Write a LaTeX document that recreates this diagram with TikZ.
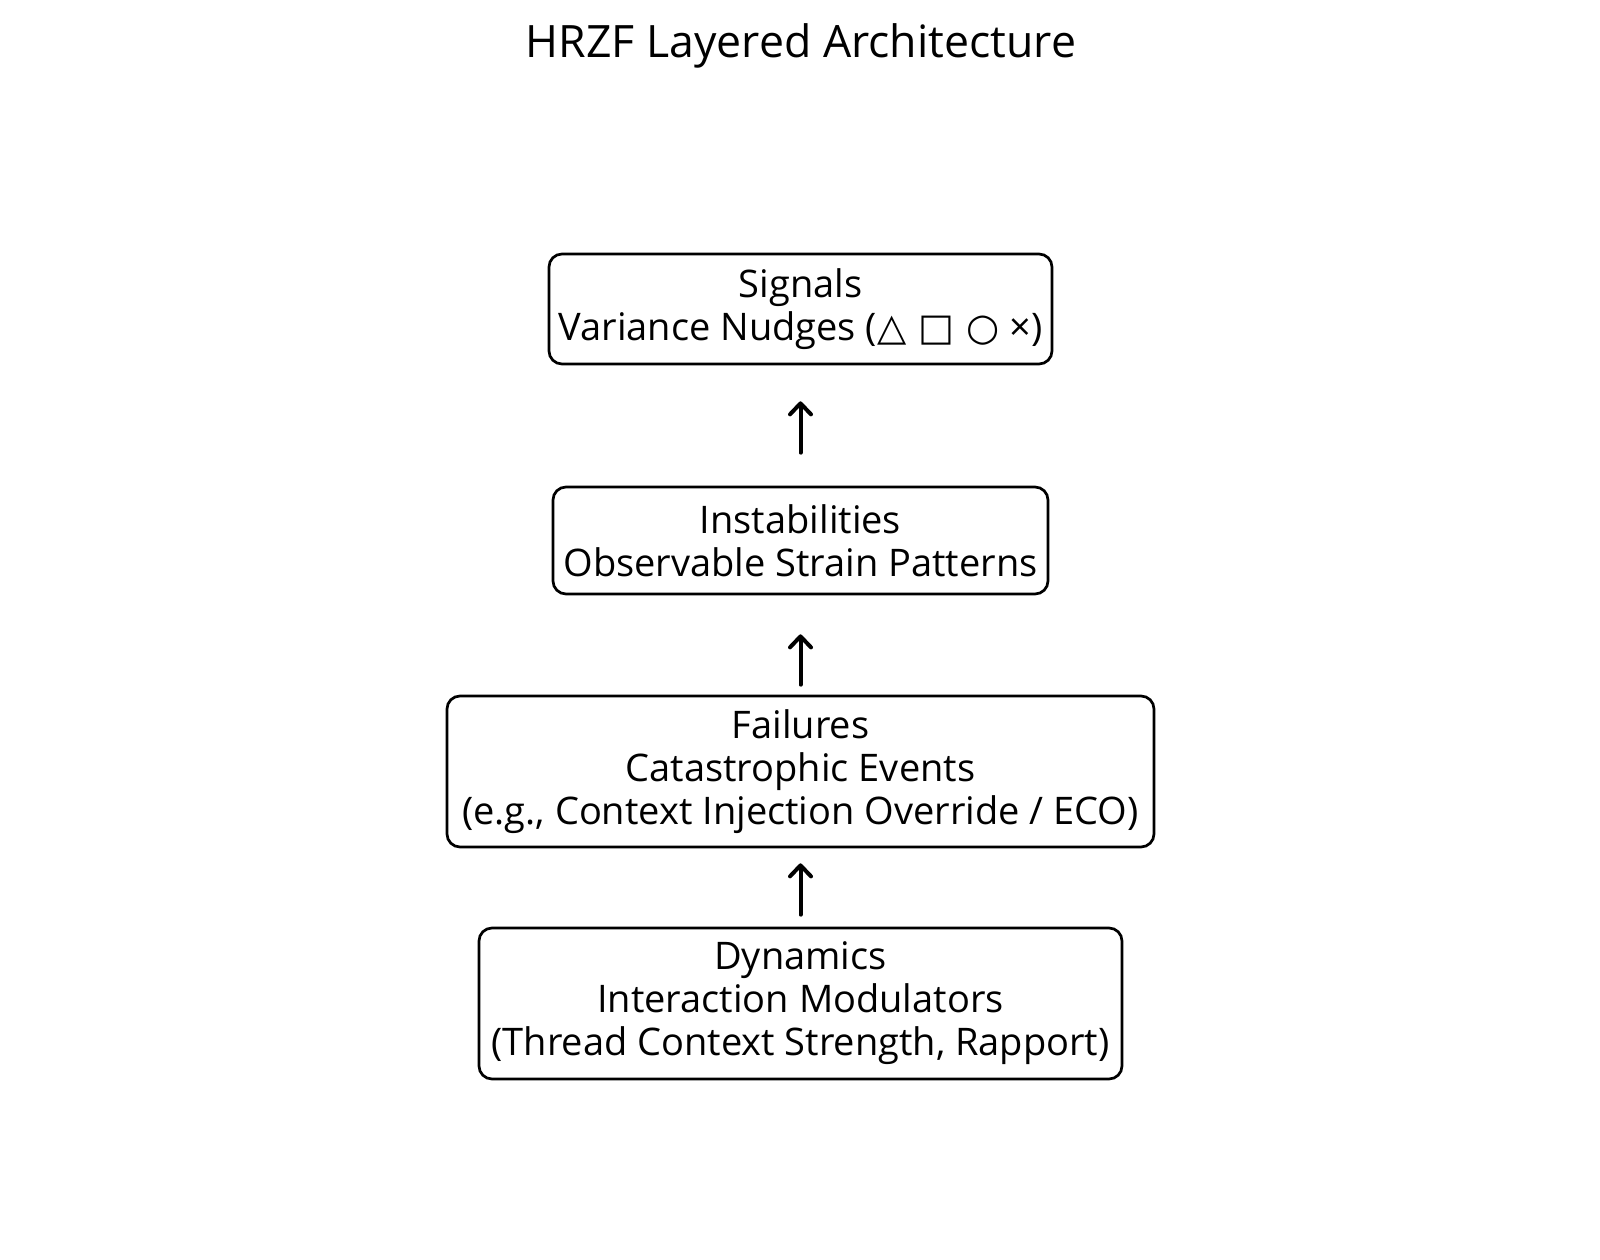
\documentclass[tikz,border=0pt]{standalone}
\usepackage{fontspec}
\setmainfont{Open Sans}[Ligatures=NoCommon]
\newfontfamily\symfont{DejaVu Sans}
\usetikzlibrary{arrows.meta}

\tikzset{
	layer/.style={draw, line width=1.35pt, rounded corners=6.5pt, align=center,
		minimum height=55pt, font=\fontsize{19}{21.5}\selectfont},
	flow/.style={line width=2pt, line cap=round,
		arrows={-Straight Barb[length=5.5pt, width=10.5pt, line cap=round, line join=round]}},
}

\begin{document}
\begin{tikzpicture}[x=0.5pt, y=-0.5pt]
	\useasboundingbox (0,0) rectangle (1600,1259);
	\node [anchor=base, font=\fontsize{22.3}{26}\selectfont] (title) at (801,57) {HRZF Layered Architecture};
	% the four layers, top to bottom
	\node [layer, minimum width=251.5pt] (sig) at (800.5,309) {Signals\\Variance Nudges ({\symfont △ □ ○} ×)};
	\node [layer, minimum width=247.5pt, minimum height=53.5pt] (inst) at (800.5,540.5) {Instabilities\\Observable Strain Patterns};
	\node [layer, minimum width=353.5pt, minimum height=75.5pt] (fail) at (800.5,771.5) {Failures\\Catastrophic Events\\(e.g., Context Injection Override / ECO)};
	\node [layer, minimum width=321.5pt, minimum height=75.5pt] (dyn) at (800.5,1003.5) {Dynamics\\Interaction Modulators\\(Thread Context Strength, Rapport)};
	% upward flow
	\draw [flow, shorten <=6pt, shorten >=7.5pt] (dyn) -- (fail);
	\draw [flow, shorten <=5pt, shorten >=19.5pt] (fail) -- (inst);
	\draw [flow, shorten <=16.5pt, shorten >=18pt] (inst) -- (sig);
\end{tikzpicture}
\end{document}
